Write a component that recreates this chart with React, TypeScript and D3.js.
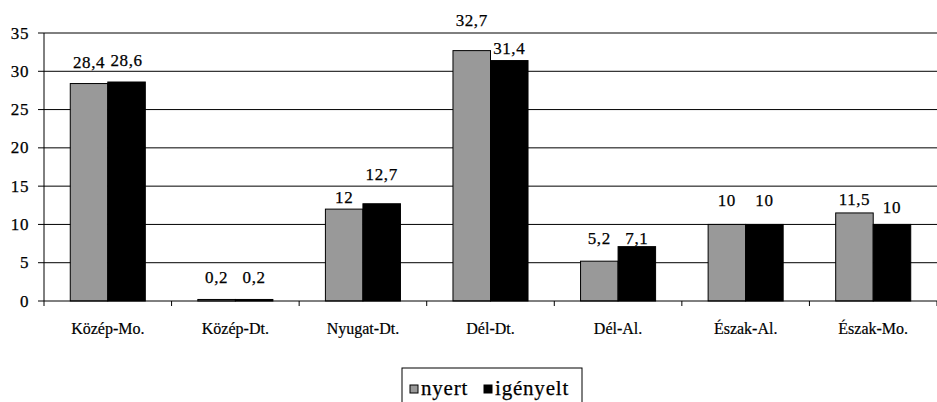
import React from "react";
import * as d3 from "d3";

const categories = ["Közép-Mo.", "Közép-Dt.", "Nyugat-Dt.", "Dél-Dt.", "Dél-Al.", "Észak-Al.", "Észak-Mo."];
const nyert = [28.4, 0.2, 12, 32.7, 5.2, 10, 11.5];
const igenyelt = [28.6, 0.2, 12.7, 31.4, 7.1, 10, 10];
const seriesNames = ["nyert", "igényelt"];
const yTicks = [0, 5, 10, 15, 20, 25, 30, 35];

// label offsets (px above bar top to text baseline), styling only
const labelGap = [
  [16, 16, 6, 25, 17, 18, 8],
  [16, 16, 24, 7, 3, 18, 11],
];

const W = 937;
const H = 402;
const left = 44;
const right = 937;
const top = 33;
const bottom = 301;
const colors = ["#999999", "#000000"];
const font = "Liberation Serif";
const tstyle = { fontFamily: font };

const fmt = (v: number) => String(v).replace(".", ",");

export default function App() {
  const x0 = d3.scaleBand<string>().domain(categories).range([left, right]).paddingInner(0).paddingOuter(0);
  const x1 = d3.scaleBand<string>().domain(seriesNames).range([0, x0.bandwidth()]).paddingInner(0).paddingOuter(0.7);
  const y = d3.scaleLinear().domain([0, 35]).range([bottom, top]);
  const series = [nyert, igenyelt];

  return (
    <svg width={W} height={H} style={{ position: "absolute", left: 0, top: 0, background: "#fff", fontFamily: font }}>
      <rect x={0} y={0} width={W} height={H} fill="#fff" />
      {yTicks.filter((t) => t > 0).map((t) => (
        <line key={"g" + t} x1={left} x2={right} y1={y(t)} y2={y(t)} stroke="#000" strokeWidth={1} />
      ))}
      {series.map((vals, si) =>
        categories.map((c, ci) => {
          const bx = (x0(c) as number) + (x1(seriesNames[si]) as number);
          const by = y(vals[ci]);
          return (
            <rect key={si + "-" + ci} x={bx} y={by} width={x1.bandwidth()} height={y(0) - by}
              fill={colors[si]} stroke="#000" strokeWidth={1} />
          );
        })
      )}
      {series.map((vals, si) =>
        categories.map((c, ci) => {
          const bx = (x0(c) as number) + (x1(seriesNames[si]) as number) + x1.bandwidth() / 2;
          return (
            <text key={"l" + si + "-" + ci} x={bx} y={y(vals[ci]) - labelGap[si][ci]} textAnchor="middle"
              fontSize={17} letterSpacing={0.6} fill="#000" stroke="#000" strokeWidth={0.25} style={tstyle}>{fmt(vals[ci])}</text>
          );
        })
      )}
      <line x1={left} x2={left} y1={top} y2={bottom + 5} stroke="#000" strokeWidth={1} />
      {yTicks.map((t) => (
        <g key={"yt" + t}>
          <line x1={left - 6} x2={left} y1={y(t)} y2={y(t)} stroke="#000" strokeWidth={1} />
          <text x={29} y={y(t) + 5.5} textAnchor="end" fontSize={17} letterSpacing={0.6} fill="#000" stroke="#000" strokeWidth={0.25} style={tstyle}>{t}</text>
        </g>
      ))}
      <line x1={left} x2={right} y1={bottom} y2={bottom} stroke="#000" strokeWidth={1} />
      {categories.map((c, i) => (
        <g key={"xc" + i}>
          <line x1={(x0(c) as number) + x0.bandwidth()} x2={(x0(c) as number) + x0.bandwidth()} y1={bottom} y2={bottom + 5} stroke="#000" />
          <text x={(x0(c) as number) + x0.bandwidth() / 2} y={334} textAnchor="middle" fontSize={16} fill="#000" stroke="#000" strokeWidth={0.2} style={tstyle}>{c}</text>
        </g>
      ))}
      <g>
        <rect x={402} y={368} width={180} height={40} fill="#fff" stroke="#000" strokeWidth={1} />
        {seriesNames.map((s, i) => {
          const lx = i === 0 ? 410 : 484;
          return (
            <g key={"lg" + s}>
              <rect x={lx} y={385} width={8} height={8} fill={colors[i]} stroke="#000" strokeWidth={1} />
              <text x={lx + 11} y={395} fontSize={21} letterSpacing={0.8} fill="#000" stroke="#000" strokeWidth={0.25} style={tstyle}>{s}</text>
            </g>
          );
        })}
      </g>
    </svg>
  );
}
